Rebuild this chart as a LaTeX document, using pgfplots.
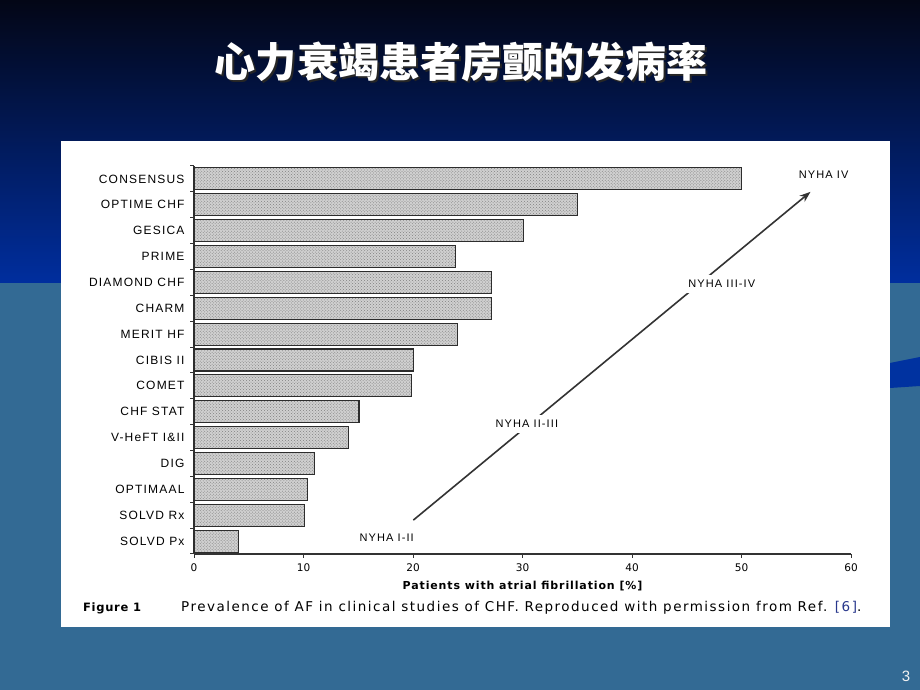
\documentclass[border=0pt]{standalone}
\usepackage{pgfplots}
\pgfplotsset{compat=1.18}
\usepackage{fontspec}
\usetikzlibrary{patterns,arrows.meta}
\setmainfont{DejaVu Sans}
\newfontfamily\chartfont{Liberation Sans}[LetterSpace=10]
\newfontfamily\capfont{DejaVu Sans}
\newfontfamily\capfontw{DejaVu Sans}[LetterSpace=11]
\newfontfamily\figfont{DejaVu Sans}[LetterSpace=6]
\newfontfamily\labfont{DejaVu Sans}[LetterSpace=8]
\newfontfamily\numfont{Liberation Sans}
\newfontfamily\cjk{Noto Sans CJK SC}
\definecolor{navytop}{RGB}{3,6,22}
\definecolor{navymid}{RGB}{6,36,115}
\definecolor{navybot}{RGB}{0,46,158}
\definecolor{steel}{RGB}{51,106,148}
\definecolor{band}{RGB}{0,50,160}
\definecolor{refblue}{RGB}{40,55,140}
\definecolor{barfill}{RGB}{208,208,208}
\definecolor{barline}{RGB}{45,45,45}
\begin{document}
\begin{tikzpicture}
\begin{scope}[x=1bp,y=1bp]
\shade[top color=navytop, middle color=navymid, bottom color=navybot] (0,407) rectangle (920,690);
\fill[steel] (0,0) rectangle (920,407);
\fill[band] (890,302) -- (890,327) -- (920,333) -- (920,304) -- cycle;
\fill[white] (61,63) rectangle (890,549);
\node[text=black!85] at (463,626) {\cjk\fontsize{41bp}{46bp}\selectfont\bfseries 心力衰竭患者房颤的发病率};
\node[text=white] at (461,628) {\cjk\fontsize{41bp}{46bp}\selectfont\bfseries 心力衰竭患者房颤的发病率};
\node[text=black!5] at (906,14) {\numfont\fontsize{15bp}{18bp}\selectfont 3};
\node[anchor=base west, inner sep=0] at (83,78) {\figfont\fontsize{11.5bp}{14bp}\selectfont\bfseries Figure 1};
\node[anchor=base west, inner sep=0] at (181,78) {\capfontw\fontsize{13.5bp}{15bp}\selectfont Prevalence of AF in clinical studies of CHF. Reproduced with permission from Ref. {\color{refblue}[6]}.};
\end{scope}
\begin{axis}[
  at={(194bp,136bp)}, anchor=south west,
  scale only axis, width=657bp, height=388bp,
  xmin=0, xmax=60, ymin=-0.5, ymax=14.5,
  axis x line*=bottom, axis y line*=left,
  xtick={0,10,...,60},
  ytick={-0.5,0.5,...,14.5},
  yticklabels={SOLVD Px,SOLVD Rx,OPTIMAAL,DIG,V-HeFT I\&II,CHF STAT,COMET,CIBIS II,MERIT HF,CHARM,DIAMOND CHF,PRIME,GESICA,OPTIME CHF,CONSENSUS,{}},
  tick align=outside, major tick length=4bp,
  axis line style={draw=black!80, line width=1.1bp},
  tick style={draw=black!80, line width=1bp},
  /pgf/number format/assume math mode=true,
  xticklabel style={font=\capfont\fontsize{10.5bp}{12bp}\selectfont, yshift=-2bp},
  yticklabel style={font=\chartfont\fontsize{12bp}{13bp}\selectfont, yshift=12.93bp, xshift=-2bp},
  xlabel={\bfseries Patients with atrial fibrillation [\%]},
  xlabel style={font=\labfont\fontsize{11bp}{13bp}\selectfont, yshift=-3bp},
  clip=false,
]
\addplot[xbar, bar width=0.85, draw=barline, line width=1.1bp, fill=barfill,
  postaction={pattern=crosshatch dots, pattern color=gray}] coordinates {
(4.05,0) (10.05,1) (10.35,2) (11.0,3) (14.1,4) (15.07,5) (19.9,6) (20.03,7)
(24.05,8) (27.2,9) (27.2,10) (23.9,11) (30.07,12) (35.04,13) (50.0,14)
};
\draw[line width=1.6bp, black!80, -{Stealth[length=11bp,width=8bp]}] (axis cs:20.03,0.81) -- (axis cs:56.3,13.5);
\tikzset{nyha/.style={fill=white, inner xsep=2bp, inner ysep=5bp, font=\chartfont\fontsize{11bp}{13bp}\selectfont}}
\node[nyha] at (axis cs:30.4,4.53) {NYHA II-III};
\node[nyha] at (axis cs:48.2,9.94) {NYHA III-IV};
\node[nyha] at (axis cs:17.6,0.12) {NYHA I-II};
\node[nyha] at (axis cs:57.5,14.15) {NYHA IV};
\end{axis}
\end{tikzpicture}
\end{document}
